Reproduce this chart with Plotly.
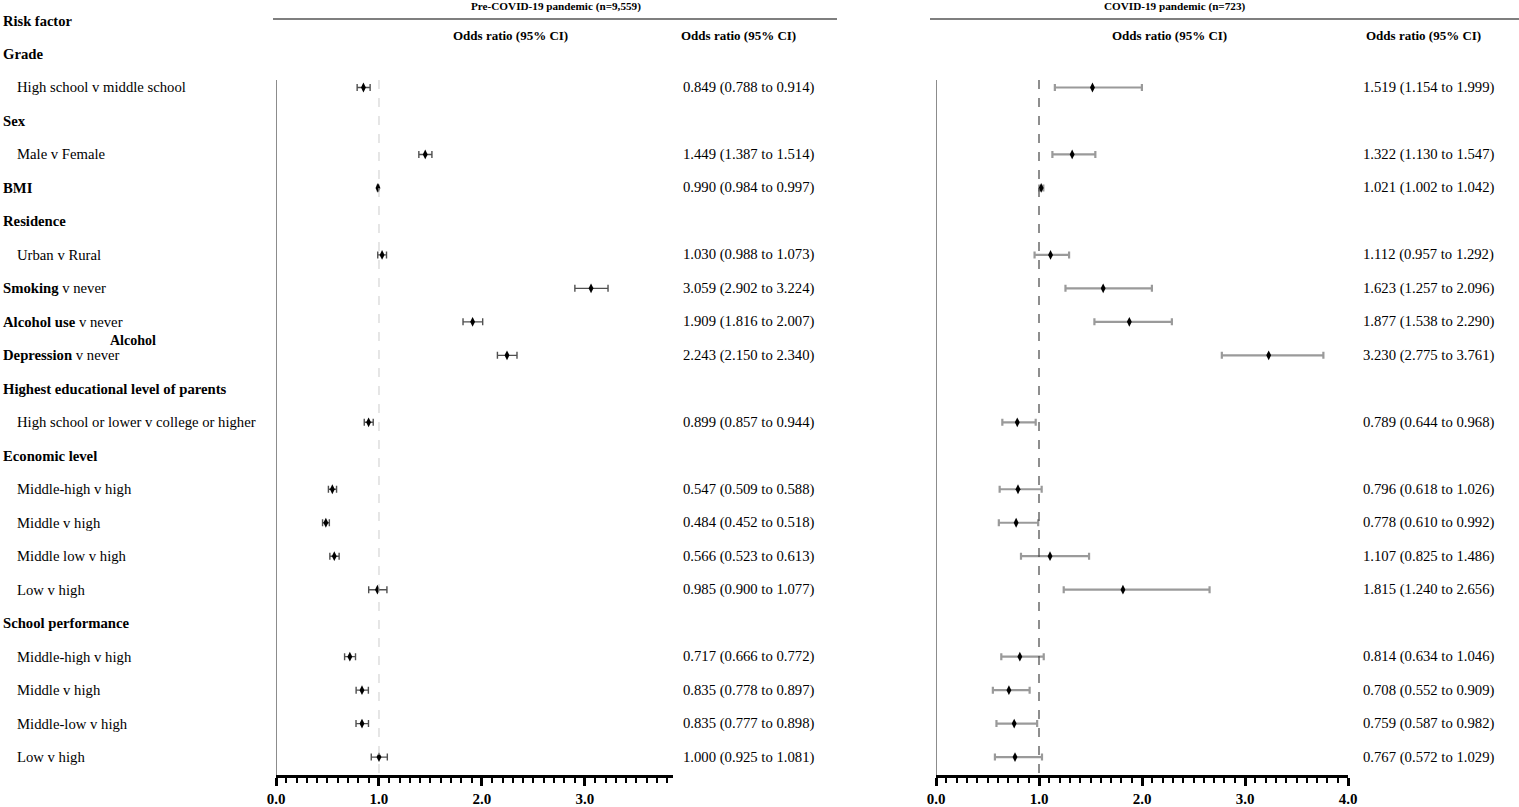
import plotly.graph_objects as go

W, H = 1519, 807

labels = ["<b>Grade</b>", "High school v middle school", "<b>Sex</b>", "Male v Female", "<b>BMI</b>",
          "<b>Residence</b>", "Urban v Rural", "<b>Smoking</b> v never", "<b>Alcohol use</b> v never",
          "<b>Depression</b> v never", "<b>Highest educational level of parents</b>",
          "High school or lower v college or higher", "<b>Economic level</b>", "Middle-high v high",
          "Middle v high", "Middle low v high", "Low v high", "<b>School performance</b>",
          "Middle-high v high", "Middle v high", "Middle-low v high", "Low v high"]
indented = [False, True, False, True, False, False, True, False, False, False, False,
            True, False, True, True, True, True, False, True, True, True, True]

data_rows = [1, 3, 4, 6, 7, 8, 9, 11, 13, 14, 15, 16, 18, 19, 20, 21]

pre_or = [0.849, 1.449, 0.990, 1.030, 3.059, 1.909, 2.243, 0.899, 0.547, 0.484, 0.566, 0.985, 0.717, 0.835, 0.835, 1.000]
pre_lo = [0.788, 1.387, 0.984, 0.988, 2.902, 1.816, 2.150, 0.857, 0.509, 0.452, 0.523, 0.900, 0.666, 0.778, 0.777, 0.925]
pre_hi = [0.914, 1.514, 0.997, 1.073, 3.224, 2.007, 2.340, 0.944, 0.588, 0.518, 0.613, 1.077, 0.772, 0.897, 0.898, 1.081]

cov_or = [1.519, 1.322, 1.021, 1.112, 1.623, 1.877, 3.230, 0.789, 0.796, 0.778, 1.107, 1.815, 0.814, 0.708, 0.759, 0.767]
cov_lo = [1.154, 1.130, 1.002, 0.957, 1.257, 1.538, 2.775, 0.644, 0.618, 0.610, 0.825, 1.240, 0.634, 0.552, 0.587, 0.572]
cov_hi = [1.999, 1.547, 1.042, 1.292, 2.096, 2.290, 3.761, 0.968, 1.026, 0.992, 1.486, 2.656, 1.046, 0.909, 0.982, 1.029]

pre_title = "Pre-COVID-19 pandemic (n=9,559)"
cov_title = "COVID-19 pandemic (n=723)"
col_head = "Odds ratio (95% CI)"
x_ticks = [0, 1, 2, 3, 4]

FONT = "Liberation Serif"
TXT = 14.7

def px_x(p):
    return p / W

fig = go.Figure()

def add_panel(orv, lo, hi, xa, bar_color, bar_w, cap):
    fig.add_trace(go.Scatter(
        x=orv, y=data_rows, xaxis=xa, yaxis="y", mode="markers",
        marker=dict(symbol="diamond-tall", size=7, color="black"),
        error_x=dict(type="data", symmetric=False,
                     array=[h - o for h, o in zip(hi, orv)],
                     arrayminus=[o - l for o, l in zip(orv, lo)],
                     color=bar_color, thickness=bar_w, width=cap),
        showlegend=False, hoverinfo="skip"))

add_panel(pre_or, pre_lo, pre_hi, "x", "#505050", 1.4, 3.5)
add_panel(cov_or, cov_lo, cov_hi, "x2", "#9a9a9a", 2.2, 3.5)

y_top, y_bot = -1.613, 21.535
axis_common = dict(showline=True, linecolor="black", linewidth=2.5, ticks="outside",
                   ticklen=8, tickwidth=2.5, tickcolor="black", tickvals=x_ticks,
                   tickformat=".1f", showgrid=False, zeroline=False, automargin=False,
                   tickfont=dict(family=FONT, size=15, color="black", weight="bold"),
                   minor=dict(dtick=0.1, ticks="outside", ticklen=5, tickwidth=1.8,
                              tickcolor="black", showgrid=False),
                   fixedrange=True)

fig.update_layout(
    template="none",
    width=W, height=H, margin=dict(l=0, r=0, t=0, b=0, pad=0), autosize=False,
    paper_bgcolor="white", plot_bgcolor="white", showlegend=False,
    xaxis=dict(domain=[px_x(276), px_x(672.5)], range=[0, 3.85], anchor="y", **axis_common),
    xaxis2=dict(domain=[px_x(936), px_x(1348)], range=[0, 4.0], anchor="y", **axis_common),
    yaxis=dict(domain=[1 - 775 / H, 1], range=[y_bot, y_top], visible=False,
               fixedrange=True, automargin=False),
    font=dict(family=FONT, color="black"),
)

shapes = []
y_line_top = 0.777
for xr in ["x", "x2"]:
    shapes.append(dict(type="line", xref=xr, yref="y", x0=0, x1=0, y0=y_line_top, y1=y_bot,
                       line=dict(color="#666666", width=1.5)))
shapes.append(dict(type="line", xref="x", yref="y", x0=1, x1=1, y0=y_line_top, y1=y_bot,
                   line=dict(color="#cccccc", width=1, dash="dash")))
shapes.append(dict(type="line", xref="x2", yref="y", x0=1, x1=1, y0=y_line_top, y1=y_bot,
                   line=dict(color="#444444", width=1.2, dash="dash")))
# header rules
shapes.append(dict(type="line", xref="paper", yref="y", x0=px_x(273), x1=px_x(837), y0=-1.045, y1=-1.045,
                   line=dict(color="#555555", width=1.5)))
shapes.append(dict(type="line", xref="paper", yref="y", x0=px_x(930), x1=1, y0=-1.045, y1=-1.045,
                   line=dict(color="#555555", width=1.5)))
fig.update_layout(shapes=shapes)

ann = []
def text(x, y, s, size=TXT, anchor="left", bold=False):
    ann.append(dict(x=x, y=y, xref="paper", yref="y", text=("<b>%s</b>" % s) if bold else s,
                    showarrow=False, xanchor=anchor, yanchor="middle", borderpad=0,
                    font=dict(family=FONT, size=size, color="black")))

text(px_x(2), -0.986, "Risk factor", size=14.5, bold=True)
for i, (lab, ind) in enumerate(zip(labels, indented)):
    text(px_x(16 if ind else 2), i, lab)
text(px_x(109), 8.55, "Alcohol", size=14, bold=True)

text(px_x(556), -1.42, pre_title, size=11.2, anchor="center", bold=True)
text(px_x(1175), -1.42, cov_title, size=11.2, anchor="center", bold=True)
for cx in [510, 738, 1169, 1423]:
    text(px_x(cx), -0.567, col_head, size=13, anchor="center", bold=True)

for r, o, l, h in zip(data_rows, pre_or, pre_lo, pre_hi):
    text(px_x(682), r, "%.3f (%.3f to %.3f)" % (o, l, h))
for r, o, l, h in zip(data_rows, cov_or, cov_lo, cov_hi):
    text(px_x(1362), r, "%.3f (%.3f to %.3f)" % (o, l, h))

fig.update_layout(annotations=ann)
fig.write_html("out.html")
